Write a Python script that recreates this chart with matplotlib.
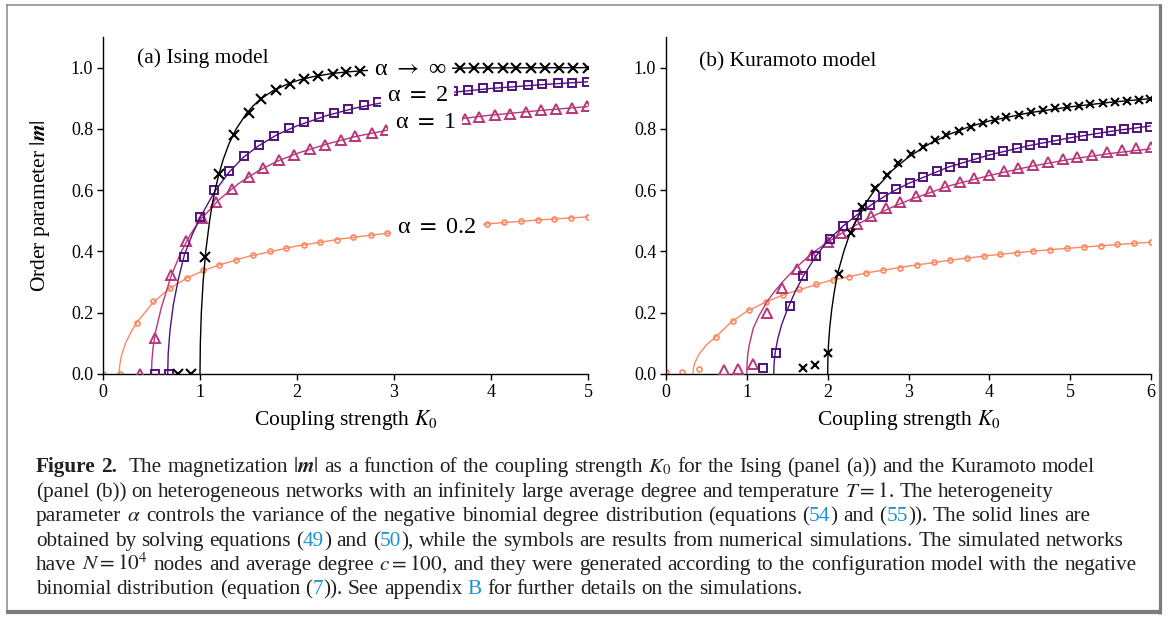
import matplotlib
matplotlib.use("Agg")
import matplotlib.pyplot as plt
from matplotlib.lines import Line2D

plt.rcParams['font.family'] = ['Liberation Serif', 'DejaVu Serif']
plt.rcParams['mathtext.fontset'] = 'stix'

# ---------------- data: (a) Ising model ----------------
# simulation symbols
ia_inf_K = [0.77, 0.91, 1.05, 1.20, 1.35, 1.50, 1.63, 1.78, 1.93, 2.07, 2.22, 2.37, 2.51, 2.65, 2.80,
            2.94, 3.09, 3.24, 3.38, 3.53, 3.68, 3.82, 3.97, 4.12, 4.26, 4.41, 4.56, 4.70, 4.85, 5.00]
ia_inf_m = [0, 0, 0.381, 0.654, 0.779, 0.852, 0.897, 0.926, 0.948, 0.962, 0.973, 0.980, 0.986, 0.989, 0.992,
            0.994, 0.995, 0.996, 0.997, 0.998, 0.998, 0.999, 0.999, 0.999, 1.0, 1.0, 1.0, 1.0, 1.0, 1.0]
ia_2_K = [0.535, 0.683, 0.84, 1.0, 1.146, 1.30, 1.45, 1.61, 1.76, 1.92, 2.07, 2.23, 2.38, 2.53, 2.69,
          2.84, 2.99, 3.15, 3.30, 3.46, 3.61, 3.76, 3.92, 4.07, 4.22, 4.38, 4.53, 4.69, 4.84, 4.99]
ia_2_m = [0, 0, 0.383, 0.514, 0.599, 0.661, 0.710, 0.746, 0.776, 0.802, 0.821, 0.839, 0.853, 0.866, 0.877,
          0.888, 0.897, 0.905, 0.912, 0.918, 0.923, 0.928, 0.932, 0.936, 0.939, 0.942, 0.946, 0.949, 0.951, 0.953]
ia_1_K = [0.38, 0.539, 0.70, 0.858, 1.02, 1.17, 1.335, 1.50, 1.65, 1.81, 1.97, 2.13, 2.29, 2.45, 2.60,
          2.77, 2.92, 3.08, 3.24, 3.40, 3.56, 3.73, 3.88, 4.04, 4.20, 4.36, 4.52, 4.67, 4.83, 4.99]
ia_1_m = [0, 0.118, 0.324, 0.434, 0.509, 0.561, 0.605, 0.643, 0.672, 0.697, 0.716, 0.733, 0.748, 0.763, 0.776,
          0.786, 0.795, 0.804, 0.812, 0.819, 0.826, 0.833, 0.839, 0.844, 0.850, 0.855, 0.861, 0.864, 0.868, 0.874]
ia_02_K = [0, 0.175, 0.347, 0.518, 0.69, 0.861, 1.033, 1.20, 1.376, 1.548, 1.72, 1.89, 2.07, 2.24, 2.41,
           2.58, 2.76, 2.93, 3.10, 3.27, 3.45, 3.62, 3.79, 3.96, 4.135, 4.31, 4.48, 4.65, 4.82, 5.0]
ia_02_m = [0, 0, 0.167, 0.237, 0.281, 0.313, 0.338, 0.356, 0.373, 0.388, 0.401, 0.412, 0.422, 0.430, 0.439,
           0.447, 0.453, 0.460, 0.466, 0.471, 0.476, 0.481, 0.486, 0.490, 0.495, 0.499, 0.503, 0.507, 0.510, 0.513]
# theory lines
la_inf_K = [1.0, 1.0034, 1.0137, 1.032, 1.059, 1.099, 1.124, 1.155, 1.193, 1.239, 1.297, 1.373, 1.478,
            1.547, 1.636, 1.755, 1.928, 2.027, 2.157, 2.344, 2.48, 2.673, 3.01, 3.80, 5.0]
la_inf_m = [0, 0.1, 0.2, 0.3, 0.4, 0.5, 0.55, 0.6, 0.65, 0.7, 0.75, 0.8, 0.85,
            0.875, 0.9, 0.925, 0.95, 0.96, 0.97, 0.98, 0.985, 0.99, 0.995, 0.999, 1.0]
la_2_K = [0.667, 0.672, 0.69, 0.725, 0.777, 0.84, 0.92, 1.0, 1.15, 1.3, 1.45, 1.6, 1.8, 2.0, 2.3, 2.6,
          3.0, 3.5, 4.0, 4.5, 5.0]
la_2_m = [0, 0.066, 0.14, 0.226, 0.31, 0.39, 0.455, 0.51, 0.595, 0.659, 0.708, 0.744, 0.782, 0.81, 0.843,
          0.868, 0.893, 0.916, 0.932, 0.944, 0.954]
la_1_K = [0.5, 0.503, 0.515, 0.54, 0.6, 0.7, 0.8, 0.9, 1.0, 1.2, 1.4, 1.6, 1.8, 2.0, 2.3, 2.6, 3.0, 3.5,
          4.0, 4.5, 5.0]
la_1_m = [0, 0.037, 0.083, 0.135, 0.215, 0.318, 0.395, 0.455, 0.502, 0.57, 0.622, 0.663, 0.695, 0.72,
          0.75, 0.775, 0.80, 0.826, 0.845, 0.86, 0.873]
la_02_K = [0.167, 0.172, 0.19, 0.23, 0.29, 0.347, 0.43, 0.52, 0.69, 0.86, 1.03, 1.2, 1.5, 2.0, 2.5, 3.0,
           3.5, 4.0, 4.5, 5.0]
la_02_m = [0, 0.028, 0.06, 0.099, 0.138, 0.167, 0.2, 0.235, 0.28, 0.312, 0.337, 0.356, 0.384, 0.418,
           0.443, 0.462, 0.478, 0.491, 0.503, 0.513]

# ---------------- data: (b) Kuramoto model ----------------
kb_inf_K = [1.70, 1.84, 2.0, 2.14, 2.29, 2.43, 2.585, 2.73, 2.87, 3.03, 3.175, 3.33, 3.47, 3.62, 3.77,
            3.92, 4.07, 4.21, 4.37, 4.51, 4.66, 4.81, 4.96, 5.105, 5.25, 5.40, 5.555, 5.70, 5.85, 5.99]
kb_inf_m = [0.021, 0.029, 0.067, 0.326, 0.459, 0.546, 0.606, 0.650, 0.688, 0.717, 0.741, 0.763, 0.780, 0.794,
            0.807, 0.818, 0.829, 0.838, 0.845, 0.854, 0.861, 0.867, 0.870, 0.876, 0.880, 0.885, 0.889,
            0.892, 0.894, 0.898]
kb_2_K = [1.20, 1.36, 1.53, 1.69, 1.86, 2.03, 2.19, 2.36, 2.52, 2.69, 2.85, 3.02, 3.18, 3.35, 3.51,
          3.68, 3.84, 4.01, 4.17, 4.34, 4.50, 4.67, 4.83, 5.01, 5.16, 5.34, 5.50, 5.67, 5.83, 5.99]
kb_2_m = [0.018, 0.067, 0.222, 0.321, 0.386, 0.440, 0.483, 0.519, 0.552, 0.579, 0.603, 0.625, 0.644, 0.663,
          0.677, 0.690, 0.704, 0.716, 0.728, 0.737, 0.746, 0.755, 0.764, 0.771, 0.778, 0.786, 0.792,
          0.800, 0.803, 0.807]
kb_1_K = [0.72, 0.895, 1.08, 1.25, 1.44, 1.625, 1.81, 2.0, 2.17, 2.36, 2.54, 2.72, 2.90, 3.09, 3.27,
          3.45, 3.64, 3.81, 4.0, 4.18, 4.36, 4.54, 4.73, 4.91, 5.09, 5.27, 5.45, 5.64, 5.82, 6.0]
kb_1_m = [0.014, 0.015, 0.033, 0.198, 0.28, 0.343, 0.39, 0.43, 0.461, 0.489, 0.516, 0.541, 0.563, 0.582,
          0.597, 0.614, 0.628, 0.639, 0.65, 0.663, 0.674, 0.682, 0.691, 0.701, 0.709, 0.715, 0.724,
          0.73, 0.737, 0.742]
kb_02_K = [0, 0.2, 0.41, 0.62, 0.825, 1.03, 1.237, 1.443, 1.65, 1.856, 2.06, 2.27, 2.47, 2.685, 2.89,
           3.10, 3.31, 3.51, 3.72, 3.93, 4.13, 4.34, 4.54, 4.75, 4.965, 5.17, 5.38, 5.58, 5.79, 6.0]
kb_02_m = [0.008, 0.008, 0.016, 0.122, 0.174, 0.209, 0.236, 0.258, 0.276, 0.294, 0.307, 0.317, 0.329,
           0.34, 0.347, 0.356, 0.365, 0.372, 0.378, 0.385, 0.391, 0.396, 0.402, 0.405, 0.41, 0.416,
           0.419, 0.425, 0.429, 0.432]
lb_inf_K = [2.0, 2.003, 2.01, 2.025, 2.05, 2.08, 2.12, 2.2, 2.27, 2.35, 2.45, 2.6, 2.8, 3.0, 3.25, 3.5,
            3.75, 4.0, 4.5, 5.0, 5.5, 6.0]
lb_inf_m = [0, 0.05, 0.095, 0.15, 0.21, 0.265, 0.325, 0.4, 0.455, 0.5, 0.55, 0.607, 0.665, 0.708, 0.75,
            0.782, 0.807, 0.826, 0.853, 0.872, 0.887, 0.899]
lb_2_K = [1.333, 1.336, 1.343, 1.353, 1.383, 1.433, 1.5, 1.6, 1.7, 1.85, 2.0, 2.2, 2.4, 2.6, 2.8, 3.0,
          3.5, 4.0, 4.5, 5.0, 5.5, 6.0]
lb_2_m = [0, 0.03, 0.05, 0.074, 0.115, 0.163, 0.21, 0.27, 0.32, 0.383, 0.435, 0.485, 0.527, 0.563, 0.595,
          0.622, 0.676, 0.715, 0.746, 0.771, 0.792, 0.81]
lb_1_K = [1.0, 1.003, 1.01, 1.03, 1.08, 1.15, 1.25, 1.35, 1.45, 1.6, 1.8, 2.0, 2.2, 2.4, 2.6, 2.8, 3.0,
          3.5, 4.0, 4.5, 5.0, 5.5, 6.0]
lb_1_m = [0, 0.035, 0.06, 0.095, 0.15, 0.19, 0.236, 0.272, 0.303, 0.345, 0.393, 0.43, 0.464, 0.493, 0.52,
          0.545, 0.567, 0.614, 0.648, 0.677, 0.701, 0.72, 0.735]
lb_02_K = [0.333, 0.343, 0.363, 0.41, 0.5, 0.62, 0.8, 1.0, 1.25, 1.5, 2.0, 2.5, 3.0, 3.5, 4.0, 4.5, 5.0,
           5.5, 6.0]
lb_02_m = [0, 0.025, 0.04, 0.065, 0.095, 0.122, 0.168, 0.205, 0.237, 0.263, 0.303, 0.331, 0.352, 0.371,
           0.387, 0.4, 0.411, 0.421, 0.43]

curve_labels = ['α $\\rightarrow$ ∞', 'α $=$ 2', 'α $=$ 1', 'α $=$ 0.2']
curve_label_K = [3.165, 3.24, 3.32, 3.44]
curve_label_m = [0.993, 0.909, 0.821, 0.479]

C_INF, C_2, C_1, C_02 = '#000000', '#51127c', '#b73779', '#fc8961'

W, H = 1168, 619
fig = plt.figure(figsize=(W / 100, H / 100), dpi=100)

# frame
fig.add_artist(Line2D([6.5 / W, 6.5 / W], [1 - 4.5 / H, 1 - 612 / H], transform=fig.transFigure,
                      color='#8a8a8a', lw=1.1))
fig.add_artist(Line2D([6.5 / W, 1160.5 / W], [1 - 4.5 / H, 1 - 4.5 / H], transform=fig.transFigure,
                      color='#8a8a8a', lw=1.1))
fig.add_artist(Line2D([1160.3 / W, 1160.3 / W], [1 - 3.5 / H, 1 - 614.3 / H], transform=fig.transFigure,
                      color='#7c7c7c', lw=2.3, solid_capstyle='butt'))
fig.add_artist(Line2D([5.5 / W, 1161.8 / W], [1 - 612.2 / H, 1 - 612.2 / H], transform=fig.transFigure,
                      color='#7c7c7c', lw=3.0, solid_capstyle='butt'))

axL = fig.add_axes([103 / W, (H - 374) / H, 485 / W, 337 / H])
axR = fig.add_axes([666 / W, (H - 374) / H, 485 / W, 337 / H])

TICK_FS = 13
LABEL_FS = 15.5


def style(ax, xmax):
    ax.set_xlim(0, xmax)
    ax.set_ylim(0, 1.1)
    for s in ['top', 'right']:
        ax.spines[s].set_visible(False)
    for s in ['left', 'bottom']:
        ax.spines[s].set_linewidth(1.0)
    ax.set_xticks(range(0, xmax + 1))
    ax.set_yticks([0.0, 0.2, 0.4, 0.6, 0.8, 1.0])
    ax.set_yticklabels(['0.0', '0.2', '0.4', '0.6', '0.8', '1.0'])
    ax.tick_params(direction='out', length=4, width=1.0, labelsize=TICK_FS, pad=3)
    ax.set_xlabel('Coupling strength $K_0$', fontsize=LABEL_FS)
    ax.xaxis.set_label_coords(0.5, -0.1)


style(axL, 5)
style(axR, 6)
axL.set_ylabel(r'Order parameter $|\mathbfit{m}|$', fontsize=LABEL_FS)
axL.yaxis.set_label_coords(-0.105, 0.5)


def series(ax, lK, lm, sK, sm, color, marker, ms, mew, z):
    ax.plot(lK, lm, color=color, lw=1.0, zorder=z)
    ax.plot(sK, sm, ls='none', marker=marker, ms=ms, mfc='none', mec=color, mew=mew, zorder=z + 0.5)


series(axL, la_02_K, la_02_m, ia_02_K, ia_02_m, C_02, 'o', 3.6, 1.2, 2)
series(axL, la_1_K, la_1_m, ia_1_K, ia_1_m, C_1, '^', 7.5, 1.4, 3)
series(axL, la_2_K, la_2_m, ia_2_K, ia_2_m, C_2, 's', 5.4, 1.4, 4)
series(axL, la_inf_K, la_inf_m, ia_inf_K, ia_inf_m, C_INF, 'x', 6.5, 1.5, 5)

series(axR, lb_02_K, lb_02_m, kb_02_K, kb_02_m, C_02, 'o', 3.6, 1.2, 2)
series(axR, lb_1_K, lb_1_m, kb_1_K, kb_1_m, C_1, '^', 7.0, 1.4, 3)
series(axR, lb_2_K, lb_2_m, kb_2_K, kb_2_m, C_2, 's', 5.4, 1.4, 4)
series(axR, lb_inf_K, lb_inf_m, kb_inf_K, kb_inf_m, C_INF, 'x', 5.5, 1.5, 5)

for lab, k, m in zip(curve_labels, curve_label_K, curve_label_m):
    axL.text(k, m, lab, fontsize=17.5, ha='center', va='center', zorder=10,
             bbox=dict(boxstyle='square,pad=0.25', fc='white', ec='none'))

axL.text(0.35, 1.03, '(a) Ising model', fontsize=15.5, ha='left', va='center')
axR.text(0.41, 1.02, '(b) Kuramoto model', fontsize=15.5, ha='left', va='center')

# ---------------- caption ----------------
cap_lines = [
    "**Figure** **2.**  The magnetization $|\\mathbfit{m}|$ as a function of the coupling strength $K_0$ for the Ising (panel (a)) and the Kuramoto model",
    "(panel (b)) on heterogeneous networks with an infinitely large average degree and temperature $T=1$. The heterogeneity",
    "parameter $\\alpha$ controls the variance of the negative binomial degree distribution (equations (§54§) and (§55§)). The solid lines are",
    "obtained by solving equations (§49§) and (§50§), while the symbols are results from numerical simulations. The simulated networks",
    "have $N=10^4$ nodes and average degree $c=100$, and they were generated according to the configuration model with the negative",
    "binomial distribution (equation (§7§)). See appendix §B§ for further details on the simulations.",
]
cap_baseline = [472, 497, 521, 546, 570, 594]
cap_right = [1095, 1054, 1090, 1123, 1137, 806]
CAP_LEFT = 36
TEXT_C = '#231f20'
LINK_C = '#1e90d6'


def parse_line(line):
    toks = line.split(' ')
    words, gaps = [], []
    pending = 0
    for t in toks:
        if t == '':
            pending += 1
            continue
        if words:
            gaps.append(1 + pending)
        pending = 0
        bold = False
        if t.startswith('**') and t.endswith('**'):
            bold = True
            t = t[2:-2]
        parts = t.split('§')
        pieces = []
        for i, p in enumerate(parts):
            if p:
                pieces.append(fig.text(0, 0, p, fontsize=10, color=(LINK_C if i % 2 else TEXT_C),
                                       fontweight=('bold' if bold else 'normal'),
                                       ha='left', va='baseline'))
        words.append(pieces)
    return words, gaps


parsed = [parse_line(l) for l in cap_lines]
fig.canvas.draw()
r = fig.canvas.get_renderer()


def word_widths(words):
    return [[p.get_window_extent(r).width for p in w] for w in words]


BASE = 10.0
sp_base = 0.25 * BASE * 100 / 72
tot_target, tot_nat = 0.0, 0.0
for (words, gaps), R in zip(parsed, cap_right):
    ww = word_widths(words)
    tot_nat += sum(sum(w) for w in ww) + sum(gaps) * sp_base
    tot_target += R - CAP_LEFT
fs = BASE * tot_target / tot_nat
for words, gaps in parsed:
    for w in words:
        for p in w:
            p.set_fontsize(fs)
fig.canvas.draw()
r = fig.canvas.get_renderer()
for li, ((words, gaps), R, yb) in enumerate(zip(parsed, cap_right, cap_baseline)):
    ww = word_widths(words)
    Wn = sum(sum(w) for w in ww)
    if li < len(parsed) - 1:
        g = (R - CAP_LEFT - Wn) / sum(gaps)
    else:
        g = 0.25 * fs * 100 / 72
    x = CAP_LEFT
    for wi, (w, wl) in enumerate(zip(words, ww)):
        for p, pw in zip(w, wl):
            p.set_position((x / W, 1 - yb / H))
            x += pw
        if wi < len(gaps):
            x += g * gaps[wi]

fig.savefig('out.png', dpi=100)
